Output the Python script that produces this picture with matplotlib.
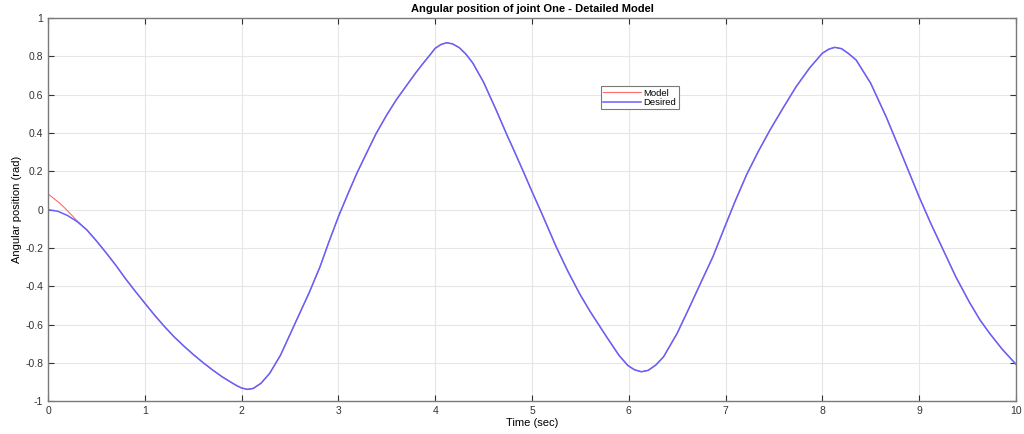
import numpy as np
import matplotlib.pyplot as plt

plt.rcParams['font.family'] = ['Liberation Sans', 'DejaVu Sans']

# desired trajectory
t_desired = [0.0, 0.1, 0.2, 0.3, 0.4, 0.5, 0.6, 0.7, 0.8, 0.9, 1.0, 1.1, 1.2, 1.3, 1.4, 1.5,
             1.6, 1.7, 1.8, 1.9, 1.95, 2.0, 2.06, 2.12, 2.2, 2.29, 2.4, 2.5, 2.568, 2.7, 2.81,
             2.9, 3.0, 3.1, 3.19, 3.3, 3.39, 3.5, 3.6, 3.7, 3.8, 3.876, 3.95, 4.0, 4.06, 4.118,
             4.18, 4.25, 4.32, 4.39, 4.5, 4.63, 4.75, 4.8, 4.91, 5.0, 5.1, 5.25, 5.37, 5.49,
             5.6, 5.77, 5.9, 5.99, 6.06, 6.13, 6.2, 6.28, 6.36, 6.5, 6.63, 6.75, 6.87, 7.0,
             7.1, 7.22, 7.34, 7.46, 7.6, 7.73, 7.87, 8.0, 8.07, 8.13, 8.2, 8.27, 8.35, 8.5,
             8.66, 8.8, 9.0, 9.12, 9.25, 9.38, 9.52, 9.63, 9.73, 9.86, 10.0]
q_desired = [0.0, -0.008, -0.03, -0.062, -0.105, -0.163, -0.225, -0.29, -0.36, -0.425, -0.488, -0.55,
             -0.608, -0.662, -0.71, -0.755, -0.797, -0.836, -0.872, -0.903, -0.918, -0.93, -0.937,
             -0.932, -0.905, -0.853, -0.76, -0.65, -0.575, -0.43, -0.297, -0.17, -0.036, 0.085,
             0.19, 0.305, 0.398, 0.495, 0.575, 0.645, 0.715, 0.764, 0.81, 0.842, 0.862, 0.871,
             0.865, 0.845, 0.81, 0.764, 0.665, 0.52, 0.38, 0.325, 0.2, 0.095, -0.018, -0.193,
             -0.32, -0.436, -0.53, -0.662, -0.76, -0.812, -0.835, -0.845, -0.838, -0.81, -0.767,
             -0.645, -0.506, -0.375, -0.245, -0.08, 0.045, 0.185, 0.305, 0.416, 0.535, 0.642, 0.74,
             0.816, 0.838, 0.847, 0.84, 0.815, 0.781, 0.66, 0.485, 0.315, 0.068, -0.07, -0.21,
             -0.35, -0.482, -0.575, -0.645, -0.728, -0.805]

# model response differs only at the very start
t_model_start = [0.0, 0.06, 0.123, 0.18, 0.226, 0.3]
q_model_start = [0.082, 0.058, 0.033, 0.005, -0.019, -0.058]

t_model = t_model_start + [t for t in t_desired if t >= 0.35]
q_model = q_model_start + [q for t, q in zip(t_desired, q_desired) if t >= 0.35]

fig = plt.figure(figsize=(10.24, 4.34), dpi=100)
ax = fig.add_axes([0.047, 0.075, 0.945, 0.8835])

ax.plot(t_model, q_model, '-', color='#ff6b6b', lw=0.8, label='Model')
ax.plot(t_desired, q_desired, '-', color='#6262ff', lw=1.1, label='Desired')

ax.set_xlim(0, 10)
ax.set_ylim(-1, 1)
ax.set_xticks(np.arange(0, 11, 1))
ax.set_yticks(np.arange(-1, 1.01, 0.2))
ax.set_yticklabels(['-1', '-0.8', '-0.6', '-0.4', '-0.2', '0', '0.2', '0.4', '0.6', '0.8', '1'])
ax.grid(True, color='#e6e6e6', lw=0.8)
ax.set_axisbelow(True)
ax.tick_params(direction='in', top=True, right=True, labelsize=7.5, colors='#333333',
               length=4, width=0.8)
for s in ax.spines.values():
    s.set_color('#7a7a7a')
    s.set_linewidth(1.0)

ax.set_title('Angular position of joint One - Detailed Model', fontsize=8, fontweight='bold', pad=4)
ax.set_xlabel('Time (sec)', fontsize=8, labelpad=1)
ax.set_ylabel('Angular position (rad)', fontsize=8, labelpad=2)

leg = ax.legend(loc='upper left', bbox_to_anchor=(0.571, 0.822), fontsize=6.8, fancybox=False,
                framealpha=1, edgecolor='#7a7a7a', handlelength=4.0, borderpad=0.25,
                labelspacing=0.05, handletextpad=0.3, borderaxespad=0)
leg.get_frame().set_linewidth(0.8)

fig.savefig('out.png', dpi=100)
